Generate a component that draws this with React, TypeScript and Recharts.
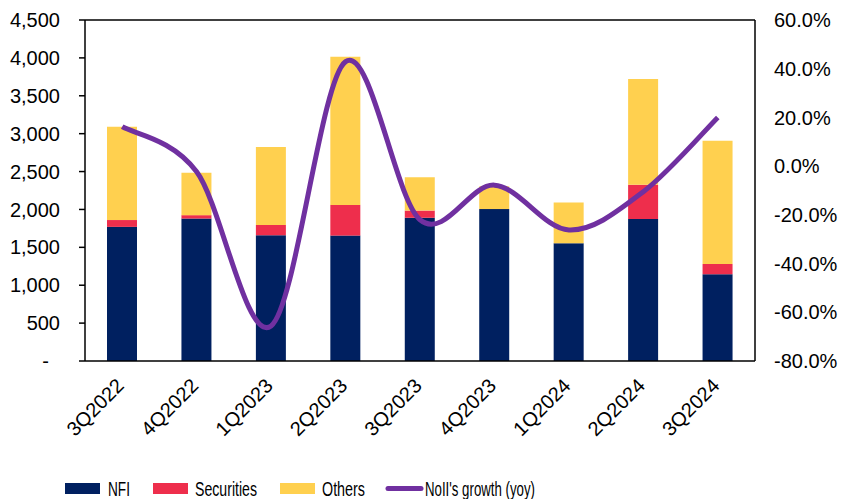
import {
  ComposedChart,
  Bar,
  Line,
  XAxis,
  YAxis,
  ReferenceLine,
} from "recharts";

const quarters = [
  "3Q2022",
  "4Q2022",
  "1Q2023",
  "2Q2023",
  "3Q2023",
  "4Q2023",
  "1Q2024",
  "2Q2024",
  "3Q2024",
];
const nfi = [1770, 1880, 1660, 1655, 1890, 2005, 1555, 1875, 1145];
const securities = [90, 45, 135, 405, 95, 0, 0, 450, 135];
const others = [1230, 560, 1030, 1955, 440, 300, 535, 1395, 1625];
const noiiGrowth = [16.2, -2.3, -65.6, 42.9, -22, -7.8, -26.2, -10.5, 20];

const leftTicks = [0, 500, 1000, 1500, 2000, 2500, 3000, 3500, 4000, 4500];
const rightTicks = [-80, -60, -40, -20, 0, 20, 40, 60];
const edgeTicks = [0, 1, 2, 3, 4, 5, 6, 7, 8, 9];

const COLORS = {
  nfi: "#002060",
  securities: "#EE2E4C",
  others: "#FFD04F",
  growth: "#7030A0",
};

const FONT = "'Liberation Sans', Arial, sans-serif";

const data = quarters.map((q, i) => ({
  q,
  nfi: nfi[i],
  securities: securities[i],
  others: others[i],
  growth: noiiGrowth[i],
}));

// Excel style smoothed line: bezier through every point, control points at (p2 - p0) / 6
const excelSmooth = (context: any) => {
  let pts: [number, number][] = [];
  return {
    areaStart() {},
    areaEnd() {},
    lineStart() {
      pts = [];
    },
    point(x: number, y: number) {
      pts.push([+x, +y]);
    },
    lineEnd() {
      if (!pts.length) return;
      context.moveTo(pts[0][0], pts[0][1]);
      for (let i = 0; i < pts.length - 1; i++) {
        const p0 = pts[i - 1] || pts[i];
        const p1 = pts[i];
        const p2 = pts[i + 1];
        const p3 = pts[i + 2] || p2;
        context.bezierCurveTo(
          p1[0] + (p2[0] - p0[0]) / 6,
          p1[1] + (p2[1] - p0[1]) / 6,
          p2[0] - (p3[0] - p1[0]) / 6,
          p2[1] - (p3[1] - p1[1]) / 6,
          p2[0],
          p2[1]
        );
      }
    },
  };
};

// accounting style: zero shows as a dash, padded in from the right
const fmtLeft = (v: number) =>
  v === 0 ? "-\u00a0\u00a0" : v.toLocaleString("en-US");
const fmtRight = (v: number) => `${v.toFixed(1)}%`;

function QuarterTick(props: any) {
  const { x, y, payload } = props;
  const tx = x + 3;
  const ty = y + 26;
  return (
    <text
      x={tx}
      y={ty}
      transform={`rotate(-45, ${tx}, ${ty})`}
      textAnchor="end"
      fontSize={20}
      fontFamily={FONT}
      fill="#000"
    >
      {payload.value}
    </text>
  );
}

// legend layout: icon start, text start, squeezed text width (narrow font in the original)
const legendItems = [
  { label: "NFI", color: COLORS.nfi, kind: "rect", x: 65, tx: 108, w: 22 },
  { label: "Securities", color: COLORS.securities, kind: "rect", x: 153, tx: 195, w: 62 },
  { label: "Others", color: COLORS.others, kind: "rect", x: 280, tx: 322, w: 43 },
  { label: "NoII's growth (yoy)", color: COLORS.growth, kind: "line", x: 386, tx: 425, w: 110 },
];

export default function App() {
  return (
    <div
      style={{
        position: "absolute",
        left: 0,
        top: 0,
        width: 842,
        height: 499,
        background: "#fff",
      }}
    >
      <ComposedChart
        width={842}
        height={461}
        data={data}
        margin={{ top: 20, right: 0, left: 0, bottom: 0 }}
      >
        <XAxis
          xAxisId="edges"
          type="number"
          domain={[0, 9]}
          ticks={edgeTicks}
          tick={false}
          axisLine={false}
          tickLine={{ stroke: "#000", strokeWidth: 1.5 }}
          tickSize={5}
          height={0}
        />
        <XAxis
          dataKey="q"
          interval={0}
          tickLine={false}
          axisLine={{ stroke: "#000", strokeWidth: 1.5 }}
          tickSize={0}
          tickMargin={0}
          tick={<QuarterTick />}
          height={100}
        />
        <YAxis
          yAxisId="left"
          width={85}
          domain={[0, 4500]}
          ticks={leftTicks}
          tickFormatter={fmtLeft}
          axisLine={{ stroke: "#000", strokeWidth: 1.5 }}
          tickLine={{ stroke: "#000", strokeWidth: 1.5 }}
          tickSize={6}
          tickMargin={19}
          tick={{ fill: "#000", fontSize: 20, fontFamily: FONT }}
        />
        <YAxis
          yAxisId="right"
          orientation="right"
          width={87}
          domain={[-80, 60]}
          ticks={rightTicks}
          tickFormatter={fmtRight}
          axisLine={{ stroke: "#000", strokeWidth: 1.5 }}
          tickLine={false}
          tickSize={0}
          tickMargin={19}
          tick={{ fill: "#000", fontSize: 20, fontFamily: FONT, textAnchor: "start" }}
        />
        <ReferenceLine yAxisId="left" y={4500} stroke="#000" strokeWidth={1.5} />
        <Bar
          yAxisId="left"
          dataKey="nfi"
          stackId="a"
          fill={COLORS.nfi}
          barSize={30}
          isAnimationActive={false}
        />
        <Bar
          yAxisId="left"
          dataKey="securities"
          stackId="a"
          fill={COLORS.securities}
          barSize={30}
          isAnimationActive={false}
        />
        <Bar
          yAxisId="left"
          dataKey="others"
          stackId="a"
          fill={COLORS.others}
          barSize={30}
          isAnimationActive={false}
        />
        <Line
          yAxisId="right"
          dataKey="growth"
          type={excelSmooth as any}
          stroke={COLORS.growth}
          strokeWidth={5}
          dot={false}
          isAnimationActive={false}
        />
      </ComposedChart>
      <svg width={842} height={38} style={{ display: "block" }}>
        {legendItems.map((it) => (
          <g key={it.label}>
            {it.kind === "rect" ? (
              <rect x={it.x} y={22} width={35} height={11} fill={it.color} />
            ) : (
              <line
                x1={it.x + 2}
                y1={27.5}
                x2={it.x + 35}
                y2={27.5}
                stroke={it.color}
                strokeWidth={5}
                strokeLinecap="round"
              />
            )}
            <text
              x={it.tx}
              y={35}
              fontSize={20}
              fontFamily={FONT}
              fill="#000"
              textLength={it.w}
              lengthAdjust="spacingAndGlyphs"
            >
              {it.label}
            </text>
          </g>
        ))}
      </svg>
    </div>
  );
}
